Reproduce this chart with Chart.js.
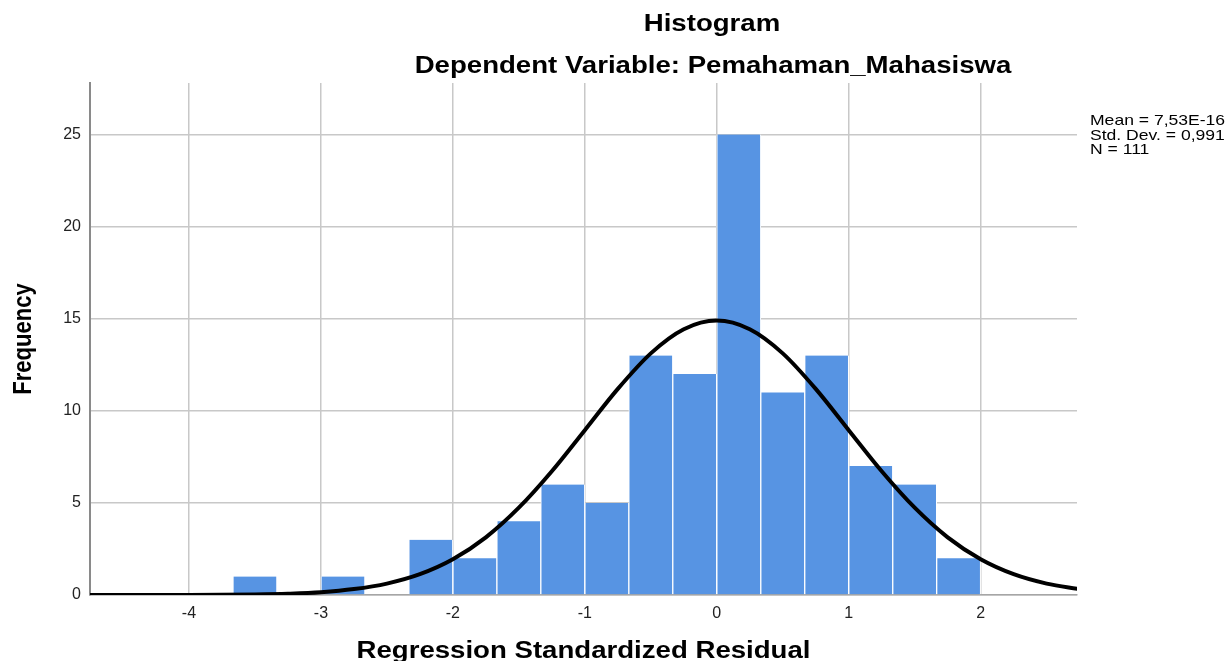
<!DOCTYPE html>
<html lang="en">
<head>
  <meta charset="UTF-8">
  <title>Histogram</title>
  <script src="https://cdn.jsdelivr.net/npm/chart.js"></script>
  <style>
    body { margin: 0; background: #fff; }
    canvas { display: block; }
  </style>
</head>
<body>
  <canvas id="histChart" width="1232" height="661"></canvas>

  <script>
    // histogram bins (centre of each 1/3-wide bin) and counts
    const binCenters = [-3.5, -3.167, -2.833, -2.5, -2.167, -1.833, -1.5, -1.167, -0.833,
                        -0.5, -0.167, 0.167, 0.5, 0.833, 1.167, 1.5, 1.833];
    const frequencies = [1, 0, 1, 0, 3, 2, 4, 6, 5, 13, 12, 25, 11, 13, 7, 6, 2];

    // normal curve, every 0.25
    const curveX = [-4.75, -4.5, -4.25, -4, -3.75, -3.5, -3.25, -3, -2.75, -2.5, -2.25, -2, -1.75,
                    -1.5, -1.25, -1, -0.75, -0.5, -0.25, 0, 0.25, 0.5, 0.75, 1, 1.25, 1.5, 1.75,
                    2, 2.25, 2.5, 2.75];
    const curveY = [0, 0, 0, 0, 0.01, 0.03, 0.07, 0.15, 0.32, 0.62, 1.13, 1.94, 3.13,
                    4.74, 6.72, 8.95, 11.19, 13.12, 14.43, 14.9, 14.43, 13.12, 11.19, 8.95, 6.72, 4.74, 3.13,
                    1.94, 1.13, 0.62, 0.32];

    const xTicks = [-4, -3, -2, -1, 0, 1, 2];
    const yTicks = [0, 5, 10, 15, 20, 25];

    const chartTitle = 'Histogram';
    const chartSubtitle = 'Dependent Variable: Pemahaman_Mahasiswa';
    const xTitle = 'Regression Standardized Residual';
    const yTitle = 'Frequency';
    const statsLines = ['Mean = 7,53E-16', 'Std. Dev. = 0,991', 'N = 111'];

    const FONT = '"Liberation Sans", Arial, sans-serif';

    // texts drawn a bit wide, like the SPSS export
    function wideText(ctx, text, x, y, font, sx, align) {
      ctx.save();
      ctx.font = font;
      ctx.fillStyle = '#000';
      ctx.textAlign = align;
      ctx.textBaseline = 'alphabetic';
      ctx.translate(x, y);
      ctx.scale(sx, 1);
      ctx.fillText(text, 0, 0);
      ctx.restore();
    }

    const textPlugin = {
      id: 'spssText',
      afterDraw(chart) {
        const ctx = chart.ctx;
        const area = chart.chartArea;
        wideText(ctx, chartTitle, 712, 31, 'bold 23px ' + FONT, 1.2, 'center');
        wideText(ctx, chartSubtitle, 713, 73, 'bold 23px ' + FONT, 1.2, 'center');
        wideText(ctx, xTitle, (area.left + area.right) / 2, 658, 'bold 23px ' + FONT, 1.2, 'center');

        ctx.save();
        ctx.font = 'bold 22px ' + FONT;
        ctx.fillStyle = '#000';
        ctx.textAlign = 'center';
        ctx.translate(31, (area.top + area.bottom) / 2);
        ctx.rotate(-Math.PI / 2);
        ctx.scale(1, 1.15);
        ctx.fillText(yTitle, 0, 0);
        ctx.restore();

        statsLines.forEach((line, i) => {
          wideText(ctx, line, 1090, 125 + i * 14.7, '15px ' + FONT, 1.17, 'left');
        });
      }
    };

    const ctx = document.getElementById('histChart').getContext('2d');
    new Chart(ctx, {
      type: 'bar',
      data: {
        datasets: [
          {
            type: 'line',
            data: curveX.map((x, i) => ({ x: x, y: curveY[i] })),
            borderColor: '#000',
            borderWidth: 4,
            pointRadius: 0,
            cubicInterpolationMode: 'monotone',
            fill: false,
            order: 0
          },
          {
            type: 'bar',
            data: binCenters.map((x, i) => ({ x: x, y: frequencies[i] })),
            backgroundColor: '#5794e3',
            borderColor: '#fff',
            borderWidth: { left: 1, right: 1, top: 0, bottom: 0 },
            barPercentage: 1,
            categoryPercentage: 1,
            order: 1
          }
        ]
      },
      options: {
        responsive: false,
        animation: false,
        layout: { padding: { left: 0, top: 83, right: 155, bottom: 0 } },
        plugins: {
          legend: { display: false },
          tooltip: { enabled: false }
        },
        scales: {
          x: {
            type: 'linear',
            min: -4.75,
            max: 2.73,
            offset: false,
            afterBuildTicks: (scale) => { scale.ticks = xTicks.map(v => ({ value: v })); },
            afterFit: (scale) => { scale.height = 66; },
            grid: { color: '#c8c8c8', lineWidth: 1.5, drawTicks: false, offset: false },
            border: { color: '#a6a6a6', width: 1.5 },
            ticks: { padding: 9, color: '#222', font: { family: FONT, size: 16 } }
          },
          y: {
            min: 0,
            max: 27.8,
            afterBuildTicks: (scale) => { scale.ticks = yTicks.map(v => ({ value: v })); },
            afterFit: (scale) => { scale.width = 90; },
            grid: { color: '#c8c8c8', lineWidth: 1.5, drawTicks: false },
            border: { color: '#8a8a8a', width: 2 },
            ticks: { padding: 9, color: '#222', font: { family: FONT, size: 16 } }
          }
        }
      },
      plugins: [textPlugin]
    });
  </script>
</body>
</html>
